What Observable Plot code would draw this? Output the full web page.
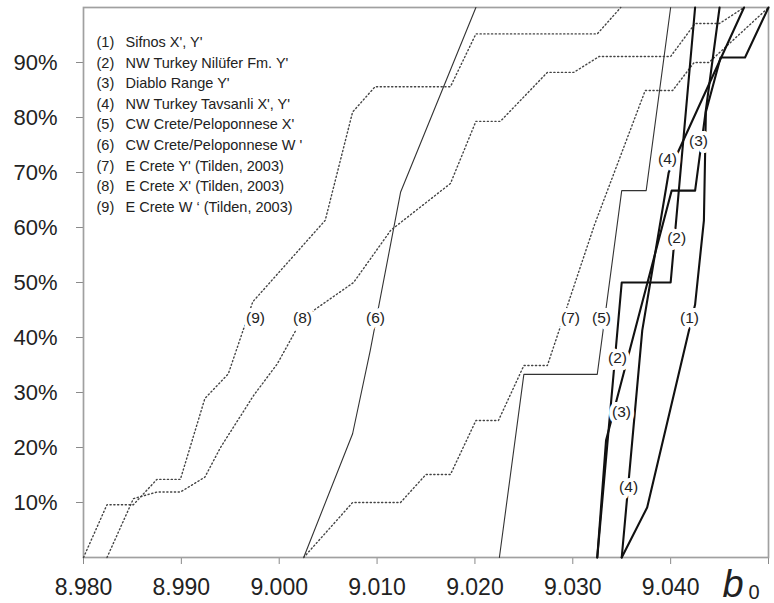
<!DOCTYPE html>
<html>
<head>
<meta charset="utf-8">
<script src="https://cdn.jsdelivr.net/npm/d3@7"></script>
<script src="https://cdn.jsdelivr.net/npm/@observablehq/plot@0.6"></script>
<style>
  body { margin: 0; background: #fff; }
</style>
</head>
<body>
<div id="chart"></div>
<script>
// ---- Data ----
const seriesNames = [
  "Sifnos X', Y'",
  "NW Turkey Nilüfer Fm. Y'",
  "Diablo Range Y'",
  "NW Turkey Tavsanli X', Y'",
  "CW Crete/Peloponnese X'",
  "CW Crete/Peloponnese W '",
  "E Crete Y' (Tilden, 2003)",
  "E Crete X' (Tilden, 2003)",
  "E Crete W \u2018 (Tilden, 2003)"
];

// cumulative curves: b0 values and cumulative percentage
const b0_1  = [9.0350, 9.0376, 9.0425, 9.0434, 9.0436, 9.0451, 9.0476, 9.0500];
const pct_1 = [0, 9.1, 46, 61.3, 81, 90.9, 90.9, 100];

const b0_2  = [9.0325, 9.0350, 9.0400, 9.0425];
const pct_2 = [0, 50, 50, 100];

const b0_3  = [9.0325, 9.0334, 9.0401, 9.0425, 9.0450];
const pct_3 = [0, 21.3, 66.7, 66.7, 100];

const b0_4  = [9.0350, 9.0371, 9.0398, 9.0475];
const pct_4 = [0, 41.3, 70, 100];

const b0_5  = [9.0225, 9.0250, 9.0325, 9.0350, 9.0375, 9.0400];
const pct_5 = [0, 33.3, 33.3, 66.7, 66.7, 100];

const b0_6  = [9.0025, 9.0075, 9.0093, 9.0124, 9.0201];
const pct_6 = [0, 22.5, 37.6, 66.4, 100];

const b0_7  = [9.0025, 9.0075, 9.0124, 9.0150, 9.0175, 9.0201, 9.0224, 9.0250, 9.0274, 9.0322, 9.0374, 9.0402, 9.0424, 9.0439, 9.0500];
const pct_7 = [0, 10, 10, 15.1, 15.1, 24.9, 24.9, 34.9, 34.9, 60.4, 84.9, 84.9, 90, 90, 100];

const b0_8  = [8.9824, 8.9851, 8.9875, 8.9899, 8.9924, 8.9940, 8.9974, 8.9998, 9.0017, 9.0035, 9.0076, 9.0114, 9.0175, 9.0201, 9.0226, 9.0274, 9.0301, 9.0327, 9.0400, 9.0425, 9.0450, 9.0475];
const pct_8 = [0, 10.7, 11.9, 11.9, 14.6, 20, 29.5, 35.2, 41.3, 44.9, 50, 59.5, 68, 79.3, 79.3, 88.2, 88.2, 91.1, 91.1, 97.1, 97.1, 100];

const b0_9  = [8.9800, 8.9824, 8.9851, 8.9875, 8.9899, 8.9924, 8.9948, 8.9973, 9.0047, 9.0075, 9.0098, 9.0175, 9.0201, 9.0325, 9.0349];
const pct_9 = [0, 9.6, 9.6, 14.2, 14.2, 28.9, 33.4, 46.5, 61.3, 81, 85.6, 85.6, 95.2, 95.2, 100];

// curve number labels placed on the curves
const labelId  = [9, 8, 6, 7, 5, 1, 2, 3, 4, 4, 3, 2];
const labelB0  = [8.99758, 9.00238, 9.00984, 9.02977, 9.03293, 9.04193, 9.03457, 9.03498, 9.03570, 9.03968, 9.04285, 9.04061];
const labelPct = [43.6, 43.6, 43.6, 43.6, 43.6, 43.6, 36.2, 26.5, 12.9, 72.5, 75.8, 58.0];

// axis ticks
const xTicks = [8.98, 8.99, 9.00, 9.01, 9.02, 9.03, 9.04, 9.05];
const yTicks = [10, 20, 30, 40, 50, 60, 70, 80, 90];

// ---- Build tables ----
const allB0  = [b0_1, b0_2, b0_3, b0_4, b0_5, b0_6, b0_7, b0_8, b0_9];
const allPct = [pct_1, pct_2, pct_3, pct_4, pct_5, pct_6, pct_7, pct_8, pct_9];
const rows = allB0.flatMap((xs, i) => xs.map((x, j) => ({id: i + 1, b0: x, pct: allPct[i][j]})));
const labels = labelId.map((id, i) => ({id, b0: labelB0[i], pct: labelPct[i]}));

const thickIds = new Set([1, 2, 3, 4]);
const thinIds = new Set([5, 6]);
const dottedIds = new Set([7, 8, 9]);

const font = "'Liberation Sans', Arial, Helvetica, sans-serif";

const chart = Plot.plot({
  width: 774,
  height: 603,
  marginLeft: 83,
  marginRight: 6,
  marginTop: 7,
  marginBottom: 46,
  x: {domain: [8.98, 9.05]},
  y: {domain: [0, 100]},
  style: {fontFamily: font, background: "#fff", color: "#222", overflow: "visible"},
  marks: [
    Plot.axisX({
      ticks: xTicks,
      tickFormat: d => d > 9.045 ? "" : d3.format(".3f")(d),
      tickSize: 7, tickPadding: 14, fontSize: 23,
      stroke: "#8a8a8a", fill: "#222", label: null
    }),
    Plot.axisY({
      ticks: yTicks,
      tickFormat: d => d + "%",
      tickSize: 7, tickPadding: 19, fontSize: 22,
      stroke: "#8a8a8a", fill: "#222", label: null
    }),
    Plot.frame({stroke: "#a0a0a0", strokeWidth: 1.7}),
    Plot.line(rows.filter(d => thinIds.has(d.id)), {
      x: "b0", y: "pct", z: "id", stroke: "#333", strokeWidth: 1.1
    }),
    Plot.line(rows.filter(d => dottedIds.has(d.id)), {
      x: "b0", y: "pct", z: "id", stroke: "#444", strokeWidth: 1.4, strokeDasharray: "1.2 2.6"
    }),
    Plot.line(rows.filter(d => thickIds.has(d.id)), {
      x: "b0", y: "pct", z: "id", stroke: "#111", strokeWidth: 2.1
    }),
    Plot.text(labels, {
      x: "b0", y: "pct", text: d => `(${d.id})`,
      fontSize: 15.5, fill: "#222", stroke: "#fff", strokeWidth: 8
    }),
    Plot.text([seriesNames.map((_, i) => `(${i + 1})`).join("\n")], {
      text: d => d, frameAnchor: "top-left", dx: 13, dy: 25,
      textAnchor: "start", lineAnchor: "top", lineHeight: 1.42, fontSize: 14.5, fill: "#222"
    }),
    Plot.text([seriesNames.join("\n")], {
      text: d => d, frameAnchor: "top-left", dx: 42, dy: 25,
      textAnchor: "start", lineAnchor: "top", lineHeight: 1.42, fontSize: 14.5, fill: "#222"
    }),
    Plot.text(["b"], {
      text: d => d, frameAnchor: "bottom-right", dx: -46, dy: 39,
      textAnchor: "start", lineAnchor: "bottom", fontSize: 38, fontStyle: "italic", fill: "#222"
    }),
    Plot.text(["0"], {
      text: d => d, frameAnchor: "bottom-right", dx: -20, dy: 41,
      textAnchor: "start", lineAnchor: "bottom", fontSize: 20, fill: "#222"
    })
  ]
});

document.getElementById("chart").appendChild(chart);
</script>
</body>
</html>
